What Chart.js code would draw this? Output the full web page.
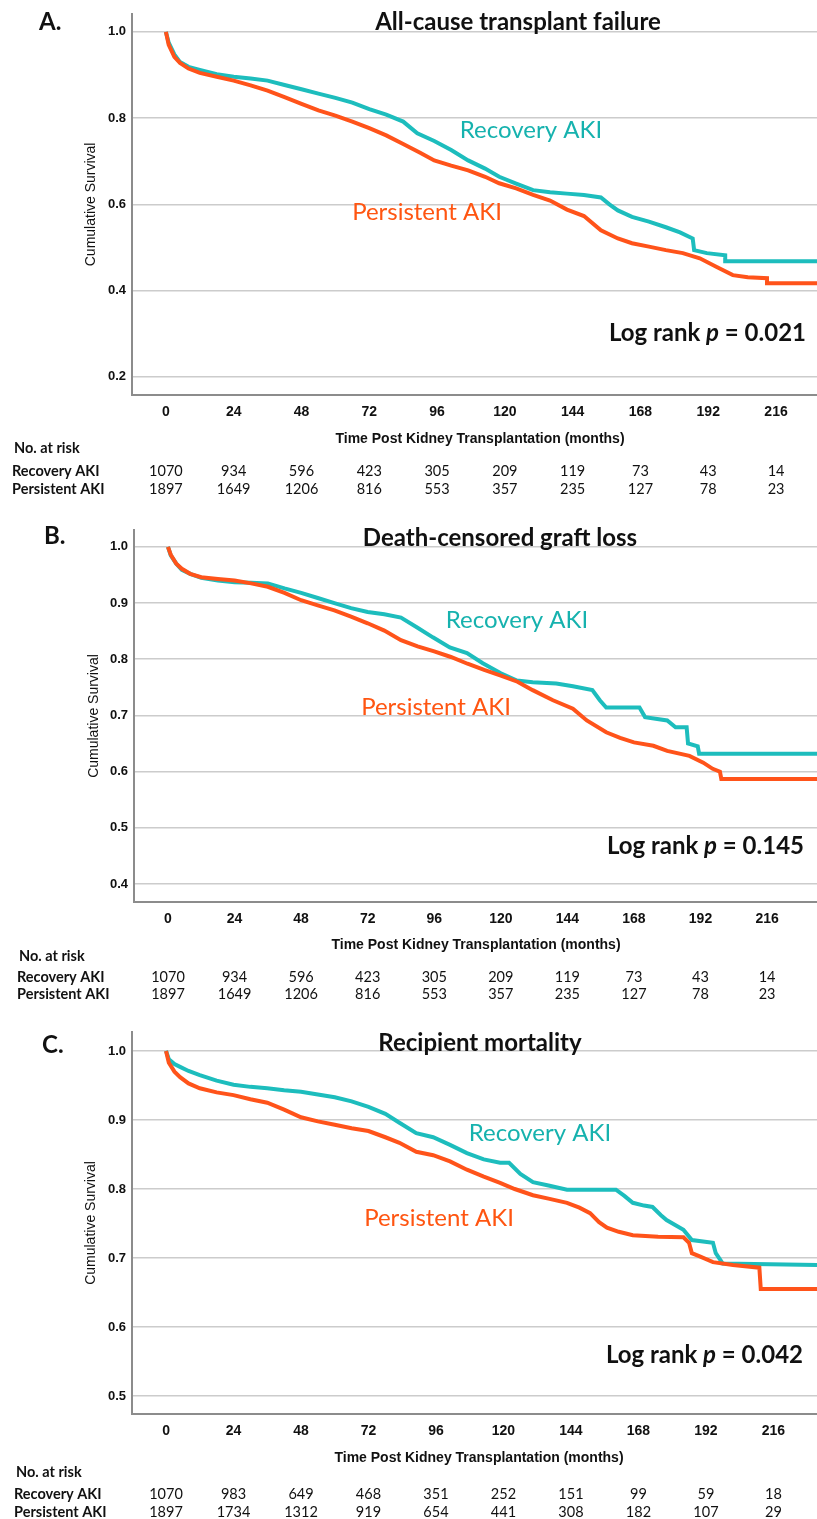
<!DOCTYPE html>
<html>
<head>
<meta charset="utf-8">
<title>Kaplan-Meier curves by AKI recovery</title>
<script src="https://cdn.jsdelivr.net/npm/chart.js@4/dist/chart.umd.min.js"></script>
<style>
  html, body { margin: 0; padding: 0; background: #fff; }
  #wrap { position: relative; width: 817px; height: 1519px; overflow: hidden; }
  canvas { position: absolute; left: 0; }
</style>
</head>
<body>
<div id="wrap">
  <canvas id="kmA" width="817" height="500" style="top:0px"></canvas>
  <canvas id="kmB" width="817" height="505" style="top:500px"></canvas>
  <canvas id="kmC" width="817" height="514" style="top:1005px"></canvas>
</div>
<script>
'use strict';

// ---- data ----
var riskTimes = [0, 24, 48, 72, 96, 120, 144, 168, 192, 216];

// A. All-cause transplant failure
var monthsA_rec = [0, 1, 3, 5, 8, 12, 18, 24, 30, 36, 42, 48, 54, 60, 66, 72, 78, 84, 89, 95, 101, 107, 113, 118, 124, 130, 136, 142, 148, 154, 157, 160, 165, 171, 177, 182, 186.5, 187, 191.5, 198, 198, 230.5];
var survA_rec   = [1.0, 0.975, 0.948, 0.930, 0.919, 0.912, 0.902, 0.896, 0.892, 0.887, 0.877, 0.867, 0.857, 0.847, 0.836, 0.821, 0.808, 0.792, 0.765, 0.747, 0.726, 0.702, 0.683, 0.664, 0.648, 0.633, 0.628, 0.625, 0.622, 0.616, 0.600, 0.586, 0.571, 0.560, 0.547, 0.535, 0.521, 0.494, 0.487, 0.482, 0.468, 0.468];
var monthsA_per = [0, 1, 3, 5, 8, 12, 18, 24, 30, 36, 42, 48, 54, 60, 66, 72, 78, 84, 90, 95, 101, 107, 113, 118, 124, 130, 136, 142, 148, 154, 160, 165, 171, 177, 183, 189, 195, 200.7, 206, 212.8, 212.8, 230.5];
var survA_per   = [1.0, 0.970, 0.942, 0.928, 0.915, 0.905, 0.896, 0.887, 0.876, 0.864, 0.849, 0.833, 0.818, 0.806, 0.792, 0.777, 0.760, 0.740, 0.720, 0.702, 0.690, 0.679, 0.664, 0.649, 0.637, 0.622, 0.609, 0.588, 0.573, 0.540, 0.521, 0.510, 0.502, 0.494, 0.487, 0.475, 0.455, 0.436, 0.431, 0.429, 0.417, 0.417];
var riskA_rec = [1070, 934, 596, 423, 305, 209, 119, 73, 43, 14];
var riskA_per = [1897, 1649, 1206, 816, 553, 357, 235, 127, 78, 23];
var yTicksA = [0.2, 0.4, 0.6, 0.8, 1.0];

// B. Death-censored graft loss
var monthsB_rec = [0, 1, 3, 5, 8, 12, 18, 24, 30, 36, 42, 48, 54, 60, 66, 72, 78, 84, 89.7, 95.5, 101.6, 107.8, 113.5, 120, 125.8, 131.5, 140, 146, 153, 155.7, 158, 170, 172, 180, 183, 187, 187.5, 191, 191.5, 234];
var survB_rec   = [1.0, 0.985, 0.970, 0.959, 0.952, 0.945, 0.940, 0.937, 0.936, 0.935, 0.926, 0.918, 0.909, 0.900, 0.891, 0.884, 0.880, 0.874, 0.857, 0.839, 0.821, 0.811, 0.793, 0.775, 0.762, 0.759, 0.757, 0.752, 0.745, 0.727, 0.714, 0.714, 0.697, 0.691, 0.679, 0.679, 0.650, 0.645, 0.632, 0.632];
var monthsB_per = [0, 1, 3, 5, 8, 12, 18, 24, 30, 36, 42, 48, 54, 60, 66, 72, 78, 84, 90, 96, 102, 108, 114, 120, 126, 131.5, 138.8, 146, 151, 158, 163, 168, 175, 180, 188, 193, 196.4, 199, 199.5, 234];
var survB_per   = [1.0, 0.986, 0.970, 0.961, 0.952, 0.946, 0.943, 0.940, 0.935, 0.929, 0.918, 0.905, 0.896, 0.887, 0.876, 0.864, 0.851, 0.834, 0.823, 0.814, 0.804, 0.792, 0.781, 0.771, 0.760, 0.745, 0.727, 0.712, 0.691, 0.670, 0.660, 0.652, 0.646, 0.637, 0.628, 0.616, 0.605, 0.600, 0.587, 0.587];
var riskB_rec = [1070, 934, 596, 423, 305, 209, 119, 73, 43, 14];
var riskB_per = [1897, 1649, 1206, 816, 553, 357, 235, 127, 78, 23];
var yTicksB = [0.4, 0.5, 0.6, 0.7, 0.8, 0.9, 1.0];

// C. Recipient mortality
var monthsC_rec = [0, 1, 3, 5, 8, 12, 18, 24, 30, 36, 42, 48, 54, 60, 66, 72, 78, 83, 89, 95, 101, 107, 113, 118.8, 122, 126, 130.5, 136, 142.6, 160, 163, 166, 170, 173, 176, 178, 184, 187, 194.5, 195.5, 198, 231.5];
var survC_rec   = [1.0, 0.988, 0.981, 0.977, 0.971, 0.965, 0.957, 0.951, 0.948, 0.946, 0.943, 0.941, 0.937, 0.933, 0.927, 0.919, 0.909, 0.896, 0.881, 0.875, 0.864, 0.852, 0.843, 0.838, 0.838, 0.822, 0.810, 0.805, 0.799, 0.799, 0.790, 0.780, 0.776, 0.774, 0.762, 0.755, 0.741, 0.726, 0.722, 0.707, 0.692, 0.690];
var monthsC_per = [0, 1, 3, 5, 8, 12, 18, 24, 30, 36, 42, 48, 54, 60, 66, 72, 78, 83, 89, 95, 101, 107, 113, 118.8, 124, 130.5, 136, 142.6, 147, 150.8, 154, 156.8, 161, 166, 175, 184, 186, 187, 190, 194.5, 201.6, 211, 211.5, 231.5];
var survC_per   = [1.0, 0.983, 0.970, 0.962, 0.953, 0.946, 0.940, 0.936, 0.930, 0.925, 0.915, 0.904, 0.898, 0.893, 0.888, 0.884, 0.875, 0.867, 0.854, 0.849, 0.840, 0.828, 0.818, 0.809, 0.800, 0.791, 0.786, 0.780, 0.773, 0.765, 0.752, 0.744, 0.738, 0.733, 0.731, 0.730, 0.722, 0.707, 0.702, 0.694, 0.690, 0.686, 0.655, 0.655];
var riskC_rec = [1070, 983, 649, 468, 351, 252, 151, 99, 59, 18];
var riskC_per = [1897, 1734, 1312, 919, 654, 441, 308, 182, 107, 29];
var yTicksC = [0.5, 0.6, 0.7, 0.8, 0.9, 1.0];

// ---- styles ----
var TEAL = '#1dbdbd';
var ORANGE = '#ff531a';
var TEAL_TEXT = '#16b2ae';
var ORANGE_TEXT = '#ff5511';
var GRID = '#cccccc';
var AXIS = '#8c8c8c';
var CAL = 'Lato, "Open Sans", sans-serif';
var ARIAL = '"Liberation Sans", Arial, sans-serif';

function toPoints(xs, ys) {
    return xs.map(function (x, i) { return { x: x, y: ys[i] }; });
}

function kmText(p) {
    return {
        id: 'kmText',
        afterDraw: function (chart) {
            var ctx = chart.ctx;
            var xs = chart.scales.x;
            var area = chart.chartArea;
            ctx.save();
            ctx.textBaseline = 'middle';

            // panel letter and title
            ctx.fillStyle = '#111';
            ctx.textAlign = 'left';
            ctx.font = 'bold 24px ' + CAL;
            ctx.fillText(p.letter, p.letterX, p.letterY);
            ctx.textAlign = 'center';
            ctx.font = 'bold 24px ' + CAL;
            ctx.fillText(p.title, p.titleX, p.titleY);

            // curve labels
            ctx.font = '24px ' + CAL;
            ctx.fillStyle = TEAL_TEXT;
            ctx.fillText('Recovery AKI', p.recX, p.recY);
            ctx.fillStyle = ORANGE_TEXT;
            ctx.fillText('Persistent AKI', p.perX, p.perY);

            // log rank text, right aligned, with italic p
            ctx.fillStyle = '#111';
            ctx.textAlign = 'left';
            var f1 = 'bold 24px ' + CAL, f2 = 'italic bold 24px ' + CAL;
            var parts = [['Log rank ', f1], ['p', f2], [' = ' + p.pval, f1]];
            var total = 0;
            parts.forEach(function (t) { ctx.font = t[1]; total += ctx.measureText(t[0]).width; });
            var cx = p.logX - total;
            parts.forEach(function (t) {
                ctx.font = t[1];
                ctx.fillText(t[0], cx, p.logY);
                cx += ctx.measureText(t[0]).width;
            });

            // axis titles
            ctx.textAlign = 'center';
            ctx.font = 'bold 14px ' + ARIAL;
            ctx.fillText('Time Post Kidney Transplantation (months)', p.xTitleX, p.xTitleY);
            ctx.save();
            ctx.translate(p.yTitleX, (area.top + area.bottom) / 2);
            ctx.rotate(-Math.PI / 2);
            ctx.font = '14px ' + ARIAL;
            ctx.fillText('Cumulative Survival', 0, 0);
            ctx.restore();

            // number at risk table
            ctx.textAlign = 'left';
            ctx.font = 'bold 14.5px ' + CAL;
            ctx.fillText('No. at risk', p.riskHeadX, p.riskHeadY);
            ctx.fillText('Recovery AKI', p.riskRowX, p.riskRow1Y);
            ctx.fillText('Persistent AKI', p.riskRowX, p.riskRow2Y);
            ctx.textAlign = 'center';
            ctx.font = '14.5px ' + CAL;
            riskTimes.forEach(function (t, i) {
                var px = xs.getPixelForValue(t);
                ctx.fillText(String(p.riskRec[i]), px, p.riskRow1Y);
                ctx.fillText(String(p.riskPer[i]), px, p.riskRow2Y);
            });
            ctx.restore();
        }
    };
}

function makeChart(id, p) {
    new Chart(document.getElementById(id), {
        type: 'line',
        data: {
            datasets: [
                {
                    label: 'Persistent AKI',
                    data: toPoints(p.perX_data, p.perY_data),
                    borderColor: ORANGE,
                    borderWidth: 4,
                    pointRadius: 0,
                    tension: 0,
                    fill: false
                },
                {
                    label: 'Recovery AKI',
                    data: toPoints(p.recX_data, p.recY_data),
                    borderColor: TEAL,
                    borderWidth: 4,
                    pointRadius: 0,
                    tension: 0,
                    fill: false
                }
            ]
        },
        options: {
            responsive: false,
            animation: false,
            events: [],
            layout: { padding: { left: p.padLeft, top: p.padTop, right: 0, bottom: 0 } },
            plugins: {
                legend: { display: false },
                tooltip: { enabled: false },
                title: { display: false }
            },
            scales: {
                x: {
                    type: 'linear',
                    min: p.xMin,
                    max: p.xMax,
                    grid: { display: false, drawTicks: false },
                    border: { display: true, color: AXIS, width: 2 },
                    afterBuildTicks: function (s) { s.ticks = riskTimes.map(function (v) { return { value: v }; }); },
                    afterFit: function (s) { s.height = p.xAxisHeight; },
                    ticks: {
                        color: '#111',
                        padding: 9,
                        maxRotation: 0,
                        autoSkip: false,
                        font: { family: ARIAL, size: 14, weight: 'bold' }
                    }
                },
                y: {
                    min: p.yMin,
                    max: p.yMax,
                    grid: { color: GRID, lineWidth: 1.5, drawTicks: false },
                    border: { display: true, color: AXIS, width: 2 },
                    afterBuildTicks: function (s) { s.ticks = p.yTicks.map(function (v) { return { value: v }; }); },
                    afterFit: function (s) { s.width = p.yAxisWidth; },
                    ticks: {
                        color: '#111',
                        padding: 6,
                        callback: function (v) { return v.toFixed(1); },
                        font: { family: ARIAL, size: 13, weight: 'bold' }
                    }
                }
            }
        },
        plugins: [kmText(p)]
    });
}

makeChart('kmA', {
    recX_data: monthsA_rec, recY_data: survA_rec, perX_data: monthsA_per, perY_data: survA_per,
    riskRec: riskA_rec, riskPer: riskA_per, yTicks: yTicksA,
    xMin: -12, xMax: 230.5, yMin: 0.158, yMax: 1.042,
    padLeft: 80, padTop: 13, yAxisWidth: 52, xAxisHeight: 105,
    letter: 'A.', letterX: 39, letterY: 22,
    title: 'All-cause transplant failure', titleX: 518, titleY: 22,
    recX: 531, recY: 130, perX: 427, perY: 212,
    pval: '0.021', logX: 806, logY: 333,
    xTitleX: 480, xTitleY: 439, yTitleX: 91,
    riskHeadX: 14, riskHeadY: 448, riskRowX: 12, riskRow1Y: 471, riskRow2Y: 489
});

makeChart('kmB', {
    recX_data: monthsB_rec, recY_data: survB_rec, perX_data: monthsB_per, perY_data: survB_per,
    riskRec: riskB_rec, riskPer: riskB_per, yTicks: yTicksB,
    xMin: -12.25, xMax: 234, yMin: 0.368, yMax: 1.03,
    padLeft: 82, padTop: 30, yAxisWidth: 52, xAxisHeight: 103,
    letter: 'B.', letterX: 44, letterY: 36,
    title: 'Death-censored graft loss', titleX: 500, titleY: 38,
    recX: 517, recY: 120, perX: 436, perY: 207,
    pval: '0.145', logX: 804, logY: 346,
    xTitleX: 476, xTitleY: 445, yTitleX: 94,
    riskHeadX: 19, riskHeadY: 456, riskRowX: 17, riskRow1Y: 477, riskRow2Y: 494
});

makeChart('kmC', {
    recX_data: monthsC_rec, recY_data: survC_rec, perX_data: monthsC_per, perY_data: survC_per,
    riskRec: riskC_rec, riskPer: riskC_per, yTicks: yTicksC,
    xMin: -12.1, xMax: 231.5, yMin: 0.474, yMax: 1.0275,
    padLeft: 80, padTop: 27, yAxisWidth: 52, xAxisHeight: 105,
    letter: 'C.', letterX: 42, letterY: 40,
    title: 'Recipient mortality', titleX: 480, titleY: 38,
    recX: 540, recY: 128, perX: 439, perY: 213,
    pval: '0.042', logX: 803, logY: 350,
    xTitleX: 479, xTitleY: 453, yTitleX: 91,
    riskHeadX: 16, riskHeadY: 467, riskRowX: 14, riskRow1Y: 489, riskRow2Y: 507
});
</script>
</body>
</html>
